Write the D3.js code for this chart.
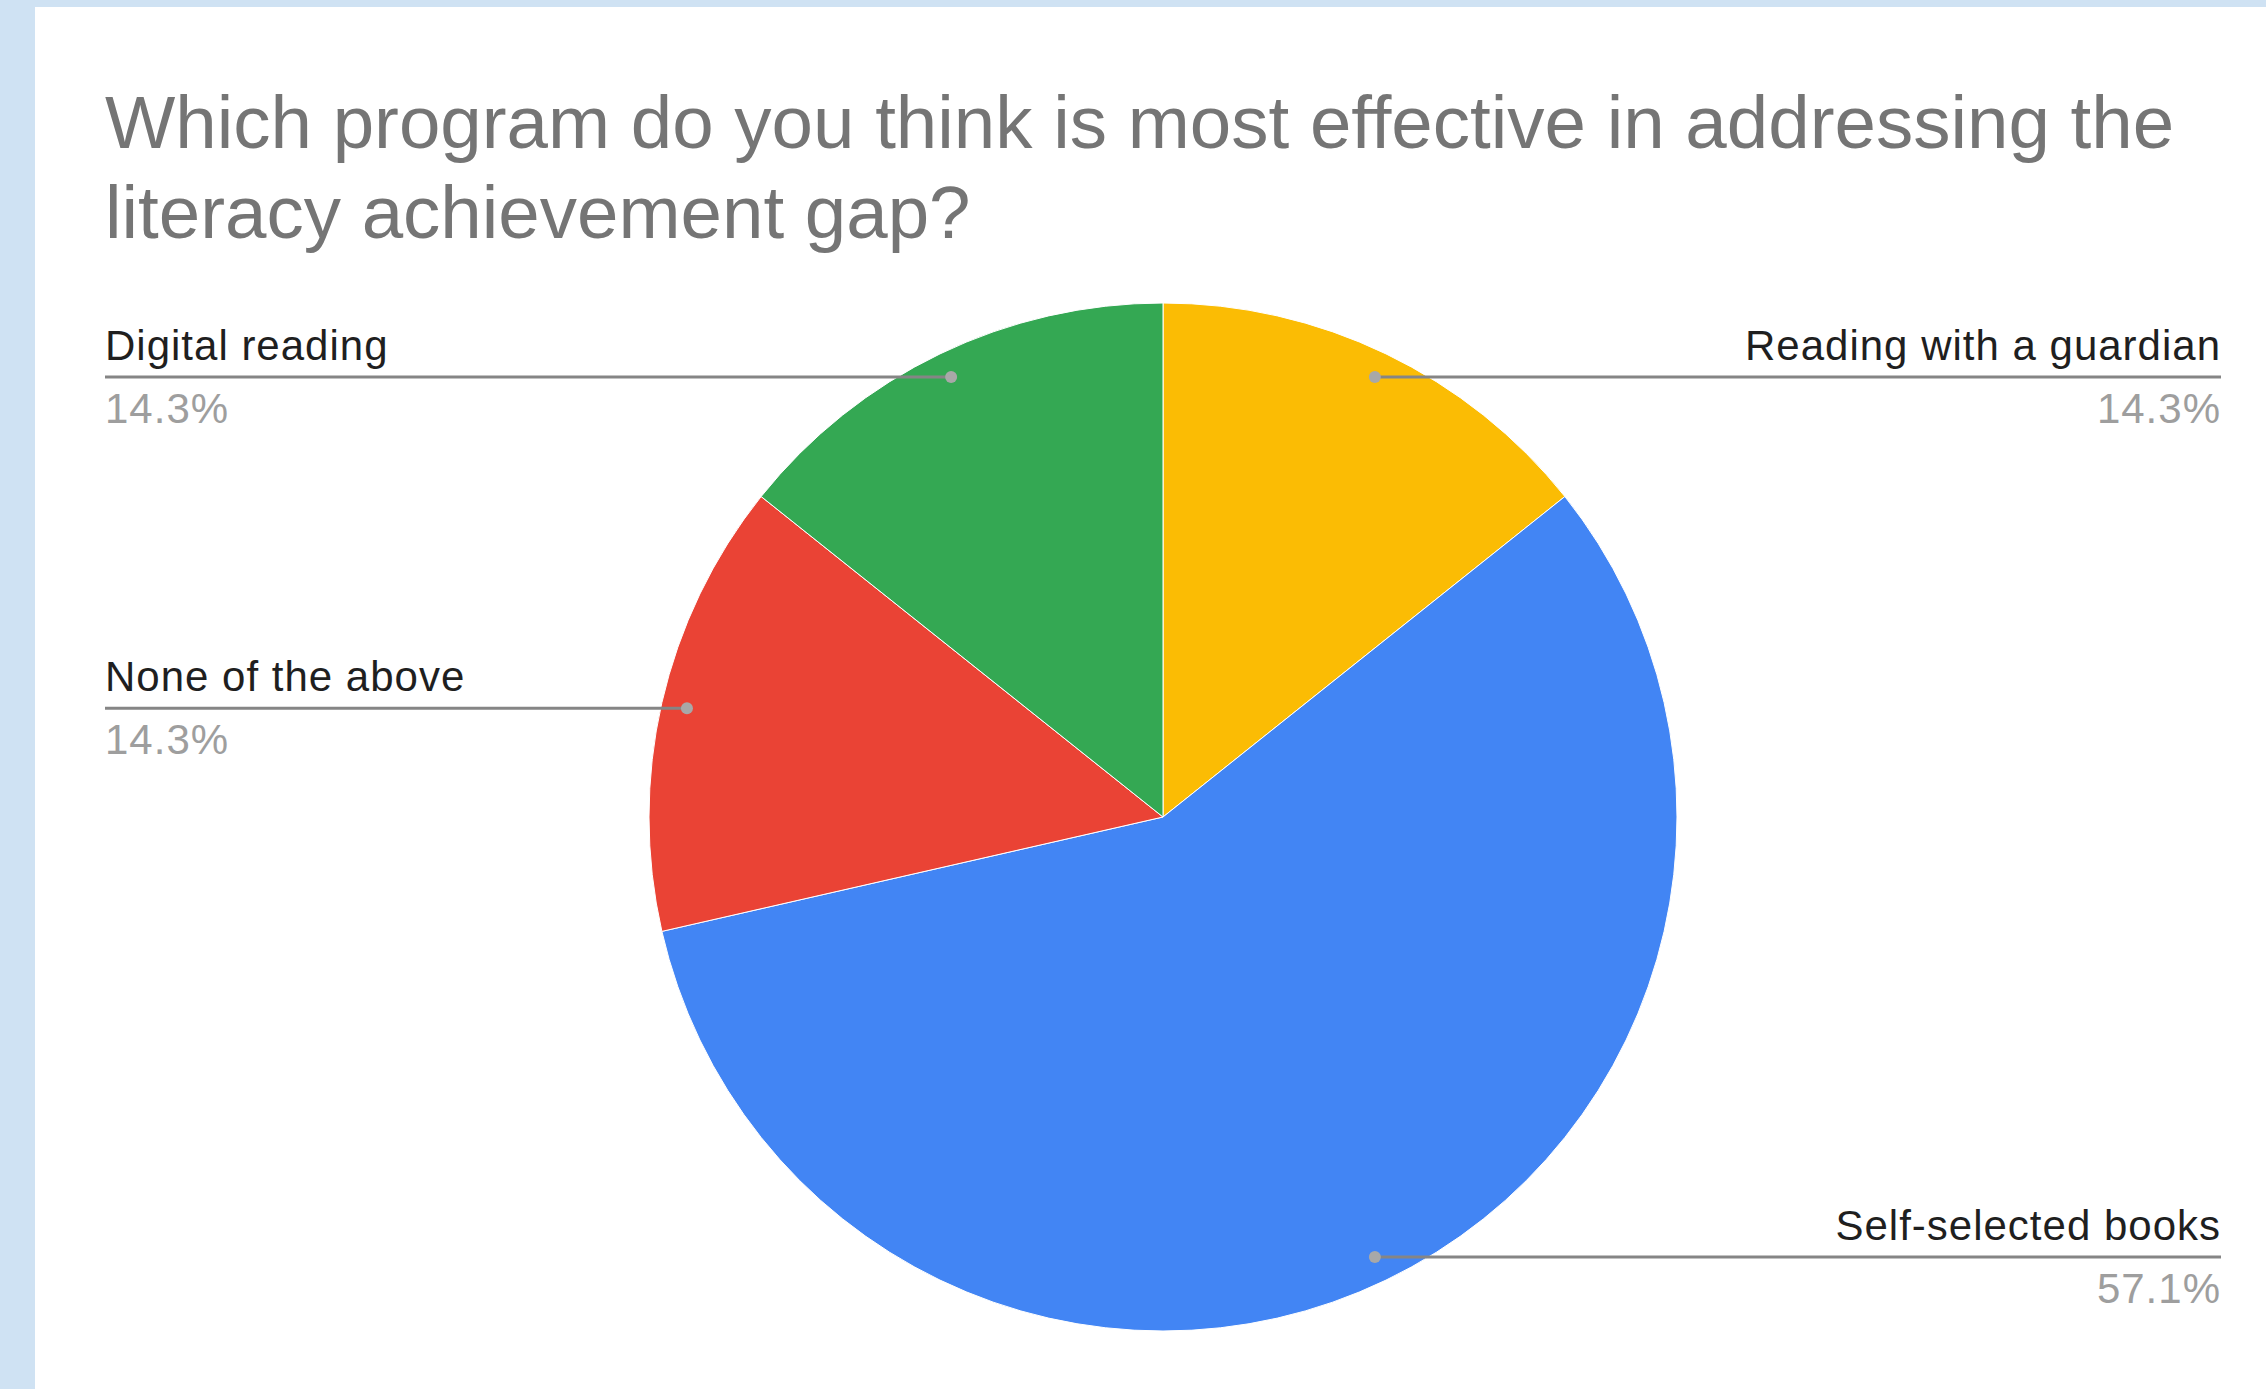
<!DOCTYPE html>
<html>
<head>
<meta charset="utf-8">
<script src="https://cdn.jsdelivr.net/npm/d3@7"></script>
<style>
  body { margin: 0; background: #cfe2f3; }
  svg { display: block; font-family: "Liberation Sans", Arial, sans-serif; }
</style>
</head>
<body>
<div id="chart"></div>
<script>
// Dữ liệu
const titleLines = ["Which program do you think is most effective in addressing the", "literacy achievement gap?"];
const categories = ["Reading with a guardian", "Self-selected books", "None of the above", "Digital reading"];
const counts = [1, 4, 1, 1];
const colors = ["#fbbc04", "#4285f4", "#ea4335", "#34a853"];

const W = 2266, H = 1389;
const cx = 1163, cy = 817, radius = 514;
const leftX = 105, rightX = 2221;

const svg = d3.select("#chart").append("svg")
    .attr("width", W)
    .attr("height", H);

// Nền
svg.append("rect").attr("width", W).attr("height", H).attr("fill", "#cfe2f3");
svg.append("rect").attr("x", 35).attr("y", 7).attr("width", W - 35).attr("height", H - 7).attr("fill", "#fff");

// Tiêu đề
svg.append("text")
    .attr("x", 105)
    .attr("y", 148)
    .style("font-size", "74.5px")
    .attr("fill", "#757575")
    .selectAll("tspan")
    .data(titleLines)
    .enter().append("tspan")
    .attr("x", 105)
    .attr("dy", (d, i) => i === 0 ? 0 : 90)
    .text(d => d);

const total = d3.sum(counts);
const data = categories.map((c, i) => ({ name: c, value: counts[i], color: colors[i] }));

const pie = d3.pie().sort(null).value(d => d.value);
const arcs = pie(data);

const arc = d3.arc().innerRadius(0).outerRadius(radius);
const dotArc = d3.arc().innerRadius(radius * 0.95).outerRadius(radius * 0.95);

const g = svg.append("g").attr("transform", `translate(${cx},${cy})`);

g.selectAll("path.slice")
    .data(arcs)
    .enter().append("path")
    .attr("class", "slice")
    .attr("d", arc)
    .attr("fill", d => d.data.color)
    .attr("stroke", "#fff")
    .attr("stroke-width", 1);

// Nhãn
const fmt = d3.format(".1%");
arcs.forEach(d => {
    const [dx, dy] = dotArc.centroid(d);
    const px = cx + dx, py = cy + dy;
    const left = px < cx;
    const x0 = left ? leftX : rightX;

    svg.append("line")
        .attr("x1", x0).attr("x2", px)
        .attr("y1", py).attr("y2", py)
        .attr("stroke", "#858585")
        .attr("stroke-width", 3);

    svg.append("circle")
        .attr("cx", px).attr("cy", py)
        .attr("r", 6)
        .attr("fill", "#a8a8a8");

    svg.append("text")
        .attr("x", x0)
        .attr("y", py - 17)
        .attr("text-anchor", left ? "start" : "end")
        .style("font-size", "42px")
        .style("letter-spacing", "1px")
        .attr("fill", "#1f1f1f")
        .text(d.data.name);

    svg.append("text")
        .attr("x", x0)
        .attr("y", py + 46)
        .attr("text-anchor", left ? "start" : "end")
        .style("font-size", "42px")
        .style("letter-spacing", "1px")
        .attr("fill", "#9e9e9e")
        .text(fmt(d.data.value / total));
});
</script>
</body>
</html>
